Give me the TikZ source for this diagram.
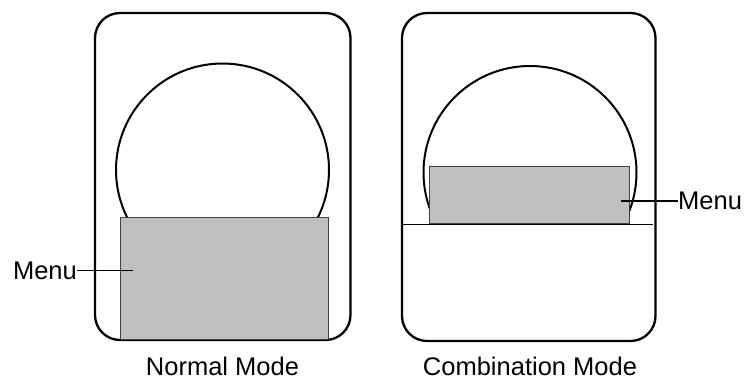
\documentclass[tikz,border=0pt]{standalone}
\usepackage{fontspec}
\setmainfont{Liberation Sans}
\begin{document}
\begin{tikzpicture}[x=1pt,y=-1pt,
  frame/.style={draw=black,line width=2.3pt,rounded corners=25pt},
  dial/.style={draw=black,line width=2pt},
  menubox/.style={draw=black!75,fill=black!25,line width=0.9pt},
  leader/.style={draw=black,line width=1.8pt},
  lbl/.style={font=\fontsize{25.5}{28}\selectfont,inner sep=0pt},
  ]
\useasboundingbox (0,0) rectangle (747,381);
% left panel
\draw[frame] (95,13) rectangle (350.5,340);
\draw[dial] (222.5,170) circle (106.5);
\draw[menubox] (120,217) rectangle (328,339.5);
\node[lbl,anchor=base east] (lm) at (77,279) {Menu};
\coordinate (lp) at (133,270.5);
\draw[leader] (lm.east |- lp) -- (lp);
\node[lbl,anchor=base] (nm) at (222.5,375) {Normal Mode};
% right panel
\draw[frame] (402,13) rectangle (655.5,341);
\begin{scope}
\clip (400,0) rectangle (660,224);
\draw[dial] (530,172.5) circle (106.5);
\end{scope}
\draw[menubox] (429.3,166.7) rectangle (629.3,223.5);
\draw[black,line width=1pt] (402,224) -- (653,224);
\node[lbl,anchor=base west] (rm) at (678,209) {Menu};
\coordinate (rp) at (621,201);
\draw[leader] (rm.west |- rp) -- (rp);
\node[lbl,anchor=base] (cm) at (530,375) {Combination Mode};
\end{tikzpicture}
\end{document}
